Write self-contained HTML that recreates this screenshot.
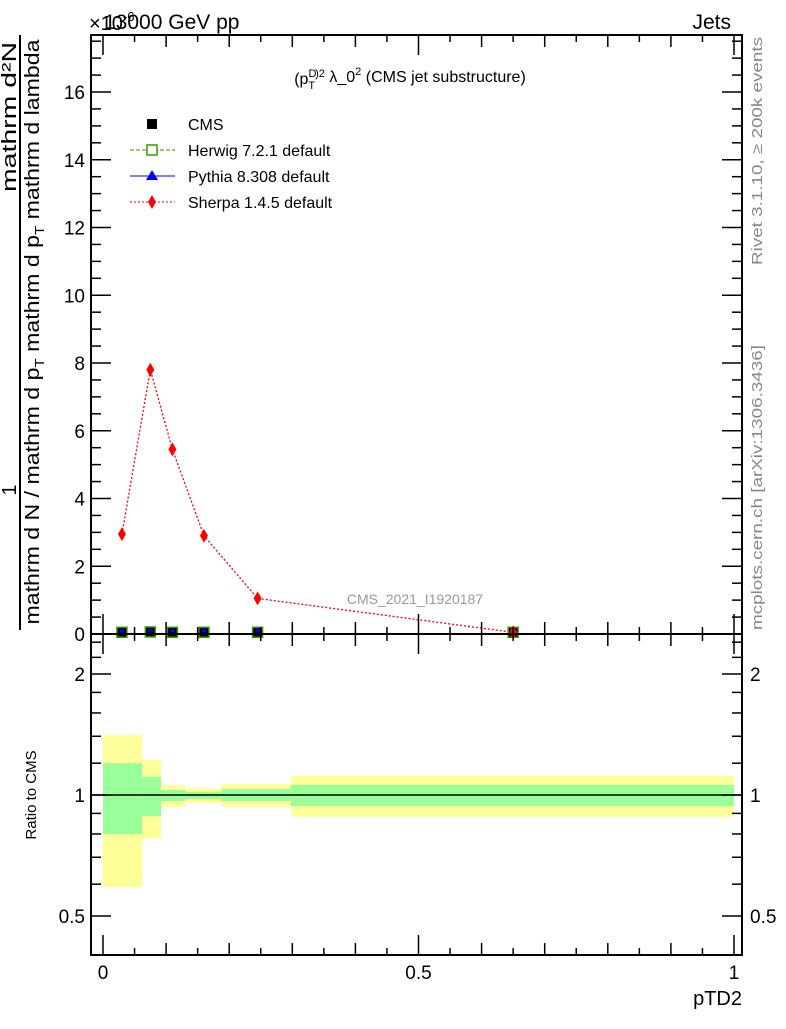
<!DOCTYPE html>
<html><head><meta charset="utf-8"><style>
body{margin:0;background:#fff}
svg text{font-family:"Liberation Sans",sans-serif}
</style></head><body>
<svg id="c" width="786" height="1024" xmlns="http://www.w3.org/2000/svg">
<text x="89" y="30" font-size="20">×10<tspan font-size="13" dy="-9">-6</tspan></text>
<text x="104" y="29" font-size="21">13000 GeV pp</text>
<text x="731" y="29" font-size="21" text-anchor="end">Jets</text>
<text x="410" y="84" font-size="16" text-anchor="middle">(p<tspan font-size="11" dy="-7">D</tspan><tspan font-size="11" dx="-8" dy="12">T</tspan><tspan font-size="11" dy="-12">)2</tspan><tspan dy="5"> λ_0</tspan><tspan font-size="11" dy="-7">2</tspan><tspan dy="7"> (CMS jet substructure)</tspan></text>
<g transform="translate(20,332) rotate(-90)">
<line x1="-298" x2="297" y1="0" y2="0" stroke="#000" stroke-width="2"/>
<text x="-158" y="-4" font-size="20" text-anchor="middle">1</text>
<text x="215" y="-4" font-size="20" text-anchor="middle" textLength="150" lengthAdjust="spacingAndGlyphs">mathrm d²N</text>
<text x="0" y="19" font-size="20" text-anchor="middle" textLength="585" lengthAdjust="spacingAndGlyphs">mathrm d N / mathrm d p<tspan font-size="13" dy="5">T</tspan><tspan dy="-5"> mathrm d p</tspan><tspan font-size="13" dy="5">T</tspan><tspan dy="-5"> mathrm d lambda</tspan></text>
</g>
<text transform="translate(36,795) rotate(-90)" font-size="15" text-anchor="middle">Ratio to CMS</text>
<text transform="translate(762,265) rotate(-90)" font-size="15" fill="#888" textLength="228" lengthAdjust="spacingAndGlyphs">Rivet 3.1.10, ≥ 200k events</text>
<text transform="translate(762,630) rotate(-90)" font-size="15" fill="#888" textLength="285" lengthAdjust="spacingAndGlyphs">mcplots.cern.ch [arXiv:1306.3436]</text>
<text x="415" y="604" font-size="14" fill="#999" text-anchor="middle">CMS_2021_I1920187</text>
<text x="742" y="1005" font-size="20" text-anchor="end">pTD2</text>
<g id="ratio"></g>
<g id="main"></g>
<g id="axes"></g>
<g>
<g><rect x="147" y="119" width="10" height="10" fill="#000"/><text x="188" y="130" font-size="16">CMS</text></g>
<g><line x1="130" x2="175" y1="150" y2="150" stroke="#3a9a00" stroke-dasharray="4,2"/><rect x="147" y="145" width="10" height="10" fill="#fff" stroke="#3a9a00" stroke-width="1.5"/><text x="188" y="156" font-size="16">Herwig 7.2.1 default</text></g>
<g><line x1="130" x2="175" y1="176" y2="176" stroke="#0000ff"/><polygon points="152,170 158,180 146,180" fill="#0000ff"/><text x="188" y="182" font-size="16">Pythia 8.308 default</text></g>
<g><line x1="130" x2="175" y1="202" y2="202" stroke="#ff0000" stroke-dasharray="2,2"/><polygon points="152,195 156,202 152,209 148,202" fill="#ff0000"/><text x="188" y="208" font-size="16">Sherpa 1.4.5 default</text></g>
</g>
</svg>
<script>
const xs=[0.03,0.075,0.11,0.16,0.245,0.65];
const sherpa=[2.95,7.8,5.45,2.9,1.05,0.05];
const cms=[0.05,0.06,0.05,0.05,0.05,0.05];
const herwig=[0.05,0.06,0.05,0.05,0.05,0.05];
const pythia=[0.05,0.06,0.05,0.05,0.05,0.05];
const edges=[0,0.062,0.092,0.131,0.188,0.298,1.0];
const yelHi=[1.41,1.22,1.059,1.04,1.065,1.115];
const yelLo=[0.59,0.78,0.934,0.955,0.934,0.882];
const grnHi=[1.20,1.11,1.029,1.017,1.035,1.059];
const grnLo=[0.80,0.887,0.966,0.977,0.966,0.939];
const yTicks=[0,2,4,6,8,10,12,14,16];
const rTicks=[0.5,1,2];
const xTicks=[0,0.5,1];
const NS="http://www.w3.org/2000/svg";
const L=91,R=742,T=35,MB=634,RB=955;
const X=v=>103+v*631;
const Y=v=>634-v*33.875;
const RY=v=>795-Math.log2(v)*121;
function mk(p,tag,a){const e=document.createElementNS(NS,tag);for(const k in a)e.setAttribute(k,a[k]);document.getElementById(p).appendChild(e);return e;}
for(let i=0;i<edges.length-1;i++){
 let e=mk('ratio','rect',{x:X(edges[i]),y:RY(yelHi[i]),width:X(edges[i+1])-X(edges[i]),height:RY(yelLo[i])-RY(yelHi[i]),fill:'#ffff99'});
 
 
 let g=mk('ratio','rect',{x:X(edges[i]),y:RY(grnHi[i]),width:X(edges[i+1])-X(edges[i]),height:RY(grnLo[i])-RY(grnHi[i]),fill:'#99ff99'});
 
 
}
let ref=mk('ratio','line',{x1:L,x2:R,y1:RY(1),y2:RY(1),stroke:'#000','stroke-width':1.5});


let sl=mk('main','polyline',{points:xs.map((x,i)=>X(x)+','+Y(sherpa[i])).join(' '),fill:'none',stroke:'#ff0000','stroke-dasharray':'2,2','stroke-width':1.3});


xs.forEach((x,i)=>{
 let c=mk('main','rect',{x:X(x)-5,y:Y(cms[i])-5,width:10,height:10,fill:'#000',stroke:'#3a9a00','stroke-width':1.5});
 
 
 let p=mk('main','polygon',{points:`${X(x)},${Y(pythia[i])-5} ${X(x)+3},${Y(pythia[i])} ${X(x)-3},${Y(pythia[i])}`,fill:'#0000ff'});
 
 
 let y=Y(sherpa[i]);
 let s=mk('main','polygon',{points:`${X(x)},${y-7} ${X(x)+4},${y} ${X(x)},${y+7} ${X(x)-4},${y}`,fill:'#ff0000'});
 
 
});
[[T,MB],[MB,RB]].forEach(([a,b])=>{
 let f=mk('axes','rect',{x:L,y:a,width:R-L,height:b-a,fill:'none',stroke:'#000','stroke-width':2});
 
 
});
function ln(x1,y1,x2,y2,w){mk('axes','line',{x1,y1,x2,y2,stroke:'#000','stroke-width':w||1.5});}
for(let v=0;v<=17.5;v+=0.5){const y=Y(v);const maj=v%2===0;const l=maj?20:10;ln(L,y,L+l,y);ln(R,y,R-l,y);}
yTicks.forEach(v=>{let t=mk('axes','text',{x:L-6,y:Y(v)+7,'font-size':19,'text-anchor':'end'});t.textContent=v;});
for(let k=0;k<=20;k++){const v=k*0.05;const x=X(v);const l=(k%10===0)?20:(k%2===0?12:7);ln(x,MB,x,MB-l);ln(x,T,x,T+l);ln(x,RB,x,RB-l);ln(x,MB,x,MB+l);}
[0.5,0.6,0.7,0.8,0.9,1,1.2,1.4,1.6,1.8,2,2.2,2.4].forEach(v=>{const y=RY(v);const l=[0.5,1,2].includes(v)?20:10;ln(L,y,L+l,y);ln(R,y,R-l,y);});
rTicks.forEach(v=>{let t=mk('axes','text',{x:L-6,y:RY(v)+7,'font-size':19,'text-anchor':'end'});t.textContent=v;
 let t2=mk('axes','text',{x:R+8,y:RY(v)+7,'font-size':19});t2.textContent=v;});
xTicks.forEach(v=>{let t=mk('axes','text',{x:X(v),y:979,'font-size':19,'text-anchor':'middle'});t.textContent=v;});
</script>
</body></html>
